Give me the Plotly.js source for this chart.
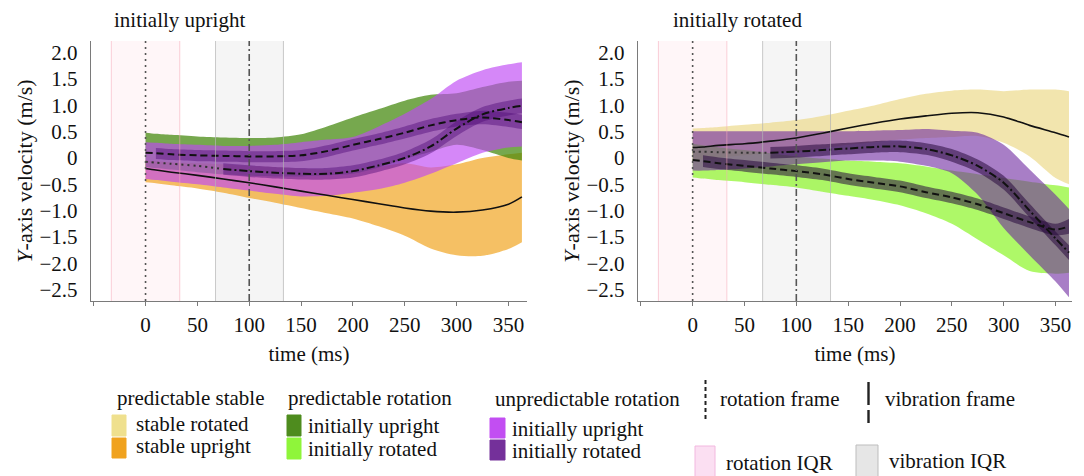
<!DOCTYPE html>
<html>
<head>
<meta charset="utf-8">
<script src="https://cdn.plot.ly/plotly-3.0.1.min.js"></script>
<style>html,body{margin:0;padding:0;background:#fff;}#chart{width:1084px;height:476px;}</style>
</head>
<body>
<div id="chart"></div>
<script>
// ---------------- data ----------------
const T = [0,10,25,50,75,100,125,150,175,200,225,250,275,300,325,350,363];

// left panel: initially upright
const upStableMed = [-0.20,-0.23,-0.27,-0.33,-0.40,-0.47,-0.55,-0.63,-0.71,-0.79,-0.87,-0.95,-1.01,-1.03,-0.99,-0.88,-0.74];
const upStableLo  = [-0.46,-0.48,-0.52,-0.58,-0.66,-0.76,-0.85,-0.95,-1.05,-1.15,-1.30,-1.48,-1.72,-1.85,-1.86,-1.73,-1.60];
const upStableHi  = [-0.05,-0.06,-0.08,-0.10,-0.12,-0.15,-0.17,-0.20,-0.22,-0.25,-0.17,-0.10,-0.18,-0.12,0.00,0.07,0.10];
const upPredHi    = [0.48,0.46,0.44,0.41,0.39,0.38,0.39,0.45,0.60,0.77,0.93,1.09,1.20,1.23,1.35,1.45,1.47];
const upPredLo    = [-0.17,-0.19,-0.22,-0.27,-0.31,-0.34,-0.35,-0.35,-0.33,-0.30,-0.18,-0.02,0.12,0.25,0.15,0.00,-0.05];
const upUnpHi     = [0.30,0.29,0.27,0.25,0.23,0.23,0.25,0.30,0.35,0.40,0.60,0.84,1.12,1.47,1.67,1.78,1.82];
const upUnpLo     = [-0.40,-0.42,-0.45,-0.50,-0.56,-0.62,-0.68,-0.73,-0.72,-0.66,-0.59,-0.47,-0.30,-0.10,0.10,0.20,0.22];
const upLineA     = [0.10,0.09,0.07,0.05,0.04,0.03,0.03,0.05,0.13,0.25,0.36,0.48,0.62,0.72,0.77,0.72,0.68];
const upLineB     = [-0.07,-0.09,-0.11,-0.15,-0.21,-0.25,-0.28,-0.30,-0.30,-0.25,-0.14,0.00,0.22,0.56,0.83,0.95,0.99];
const upBandALo   = [-0.02,-0.04,-0.06,-0.07,-0.08,-0.08,-0.06,0.02,0.14,0.25,0.37,0.50,0.60,0.64,0.59,0.55];
const upBandAHi   = [0.19,0.17,0.15,0.14,0.13,0.13,0.15,0.24,0.36,0.47,0.60,0.74,0.84,0.90,0.86,0.82];
const upBandBLo   = [-0.32,-0.36,-0.39,-0.41,-0.41,-0.37,-0.26,-0.12,0.09,0.42,0.69,0.81,0.85];
const upBandBHi   = [-0.10,-0.14,-0.17,-0.19,-0.19,-0.14,-0.03,0.12,0.35,0.70,0.97,1.09,1.13];

// right panel: initially rotated
const rotStableMed = [0.20,0.21,0.24,0.27,0.32,0.38,0.47,0.57,0.66,0.74,0.80,0.85,0.86,0.78,0.62,0.48,0.40];
const rotStableHi  = [0.56,0.57,0.59,0.63,0.67,0.72,0.80,0.90,1.00,1.12,1.22,1.28,1.30,1.27,1.30,1.30,1.27];
const rotStableLo  = [-0.05,-0.03,0.00,0.05,0.09,0.12,0.18,0.25,0.30,0.35,0.38,0.40,0.42,0.29,0.03,-0.38,-0.50];
const rotPredHi    = [0.27,0.24,0.20,0.15,0.09,0.03,-0.01,-0.05,-0.07,-0.10,-0.16,-0.24,-0.31,-0.38,-0.45,-0.52,-0.56];
const rotPredLo    = [-0.37,-0.39,-0.42,-0.46,-0.51,-0.56,-0.64,-0.72,-0.80,-0.90,-1.05,-1.25,-1.55,-1.85,-2.15,-2.20,-2.18];
const rotUnpHi     = [0.51,0.51,0.51,0.51,0.51,0.51,0.51,0.51,0.52,0.53,0.55,0.52,0.48,0.25,-0.22,-0.70,-0.97];
const rotUnpLo     = [-0.24,-0.24,-0.23,-0.20,-0.16,-0.12,-0.08,-0.05,-0.05,-0.07,-0.15,-0.29,-0.70,-1.33,-1.85,-2.35,-2.65];
const rotLineA     = [-0.04,-0.06,-0.10,-0.15,-0.20,-0.25,-0.31,-0.40,-0.47,-0.54,-0.65,-0.75,-0.88,-1.05,-1.22,-1.36,-1.30];
const rotLineB     = [0.12,0.12,0.11,0.10,0.10,0.12,0.15,0.18,0.21,0.22,0.17,0.05,-0.15,-0.47,-1.00,-1.53,-1.80];
const rotBandALo   = [-0.17,-0.21,-0.26,-0.31,-0.36,-0.42,-0.51,-0.58,-0.65,-0.76,-0.86,-0.99,-1.16,-1.33,-1.47,-1.44];
const rotBandAHi   = [0.05,0.01,-0.04,-0.09,-0.14,-0.20,-0.29,-0.36,-0.43,-0.54,-0.64,-0.77,-0.94,-1.11,-1.25,-1.16];
const rotBandBLo   = [-0.01,0.01,0.04,0.07,0.10,0.11,0.06,-0.07,-0.27,-0.60,-1.13,-1.66,-1.94];
const rotBandBHi   = [0.21,0.23,0.26,0.29,0.32,0.33,0.28,0.17,-0.03,-0.34,-0.87,-1.40,-1.66];

// reference windows (ms)
const rotationIQR = [-33, 33];
const vibrationIQR = [67.5, 133];
const rotationFrame = 0;
const vibrationFrame = 100;

// axis ticks
const yTickVals = [2, 1.5, 1, 0.5, 0, -0.5, -1, -1.5, -2, -2.5];
const yTickText = ['2.0','1.5','1.0','0.5','0','\u22120.5','\u22121.0','\u22121.5','\u22122.0','\u22122.5'];
const xTickVals = [-50, 0, 50, 100, 150, 200, 250, 300, 350];
const xTickText = ['', '0', '50', '100', '150', '200', '250', '300', '350'];

// ---------------- styling ----------------
const FONT = '"Liberation Serif", "Times New Roman", serif';
const C = {
  stableUp: 'rgba(240,160,20,0.66)',
  stableRot: 'rgba(235,215,130,0.65)',
  predUp: 'rgba(65,135,10,0.72)',
  predRot: 'rgba(140,245,40,0.70)',
  unpUp: 'rgba(190,70,245,0.65)',
  unpRot: 'rgba(110,40,160,0.60)',
  narrowUp: 'rgba(80,10,120,0.45)',
  narrowRot: 'rgba(40,10,60,0.55)'
};

function band(xa, ya, xs, lo, hi, color) {
  return [
    {x: xs, y: lo, xaxis: xa, yaxis: ya, mode: 'lines', line: {width: 0, shape: 'spline', smoothing: 0.8, color: color}, hoverinfo: 'skip', showlegend: false},
    {x: xs, y: hi, xaxis: xa, yaxis: ya, mode: 'lines', fill: 'tonexty', fillcolor: color, line: {width: 0, shape: 'spline', smoothing: 0.8, color: color}, hoverinfo: 'skip', showlegend: false}
  ];
}
function line(xa, ya, xs, ys, color, width, dash) {
  return {x: xs, y: ys, xaxis: xa, yaxis: ya, mode: 'lines', line: {color: color, width: width, dash: dash, shape: 'spline', smoothing: 0.8}, hoverinfo: 'skip', showlegend: false};
}

const TA = T.slice(1);   // narrow band A starts at 10 ms
const TB = T.slice(4);   // line B dotted before 75 ms
let traces = [];
// left
traces = traces.concat(band('x','y', T, upStableLo, upStableHi, C.stableUp));
traces = traces.concat(band('x','y', T, upPredLo, upPredHi, C.predUp));
traces = traces.concat(band('x','y', T, upUnpLo, upUnpHi, C.unpUp));
traces = traces.concat(band('x','y', TA, upBandALo, upBandAHi, C.narrowUp));
traces = traces.concat(band('x','y', TB, upBandBLo, upBandBHi, C.narrowUp));
traces.push(line('x','y', T, upStableMed, '#111', 1.6, 'solid'));
traces.push(line('x','y', T, upLineA, '#111', 2, '7px,4px'));
traces.push(line('x','y', T.slice(0,5), upLineB.slice(0,5), '#333', 2, '2px,4px'));
traces.push(line('x','y', TB, upLineB.slice(4), '#111', 2, '8px,3px,2px,3px'));
// right
traces = traces.concat(band('x2','y2', T, rotStableLo, rotStableHi, C.stableRot));
traces = traces.concat(band('x2','y2', T, rotPredLo, rotPredHi, C.predRot));
traces = traces.concat(band('x2','y2', T, rotUnpLo, rotUnpHi, C.unpRot));
traces = traces.concat(band('x2','y2', TA, rotBandALo, rotBandAHi, C.narrowRot));
traces = traces.concat(band('x2','y2', TB, rotBandBLo, rotBandBHi, C.narrowRot));
traces.push(line('x2','y2', T, rotStableMed, '#111', 1.6, 'solid'));
traces.push(line('x2','y2', T, rotLineA, '#111', 2, '7px,4px'));
traces.push(line('x2','y2', T.slice(0,5), rotLineB.slice(0,5), '#333', 2, '2px,4px'));
traces.push(line('x2','y2', TB, rotLineB.slice(4), '#111', 2, '8px,3px,2px,3px'));

// ---------------- layout ----------------
const W = 1084, H = 476;
const px = v => v / W;
const py = v => 1 - v / H;

function xAxis(domain, range, anchor) {
  return {domain: domain, range: range, anchor: anchor, showline: true, linecolor: '#7a7a7a', linewidth: 1.3,
    ticks: 'outside', ticklen: 4, tickcolor: '#7a7a7a', tickvals: xTickVals, ticktext: xTickText,
    showgrid: false, zeroline: false, tickfont: {family: FONT, size: 21, color: '#111'},
    title: {text: 'time (ms)', font: {family: FONT, size: 21, color: '#111'}, standoff: 10}};
}
function yAxis(anchor) {
  return {domain: [175/H, 435/H], range: [-2.719, 2.224], anchor: anchor, showline: true, linecolor: '#7a7a7a', linewidth: 1.3,
    ticks: 'outside', ticklen: 8, tickcolor: 'rgba(0,0,0,0)', tickvals: yTickVals, ticktext: yTickText,
    showgrid: false, zeroline: false, tickfont: {family: FONT, size: 21, color: '#111'},
    title: {text: '<i>Y</i>-axis velocity (m/s)', font: {family: FONT, size: 22, color: '#111'}, standoff: 0}};
}

const shapes = [];
[['x','y'],['x2','y2']].forEach(([xa, ya]) => {
  const yr = ya === 'y' ? 'y domain' : 'y2 domain';
  shapes.push({type: 'rect', xref: xa, yref: yr, x0: rotationIQR[0], x1: rotationIQR[1], y0: 0, y1: 1, fillcolor: '#fff6f8', line: {width: 0}, layer: 'below'});
  shapes.push({type: 'rect', xref: xa, yref: yr, x0: vibrationIQR[0], x1: vibrationIQR[1], y0: 0, y1: 1, fillcolor: '#f5f5f5', line: {width: 0}, layer: 'below'});
  rotationIQR.forEach(v => shapes.push({type: 'line', xref: xa, yref: yr, x0: v, x1: v, y0: 0, y1: 1, line: {color: 'rgba(245,170,185,0.55)', width: 1}, layer: 'above'}));
  vibrationIQR.forEach(v => shapes.push({type: 'line', xref: xa, yref: yr, x0: v, x1: v, y0: 0, y1: 1, line: {color: 'rgba(180,180,180,0.7)', width: 1}, layer: 'above'}));
  shapes.push({type: 'line', xref: xa, yref: yr, x0: rotationFrame, x1: rotationFrame, y0: 0, y1: 1, line: {color: '#555', width: 1.6, dash: '2px,4px'}, layer: 'above'});
  shapes.push({type: 'line', xref: xa, yref: yr, x0: vibrationFrame, x1: vibrationFrame, y0: 0, y1: 1, line: {color: '#555', width: 1.6, dash: '7px,3px,2px,3px'}, layer: 'above'});
});

// legend glyphs (paper coords)
function swatch(x0, x1, y0, y1, fill, border) {
  shapes.push({type: 'rect', xref: 'paper', yref: 'paper', x0: px(x0), x1: px(x1), y0: py(y1), y1: py(y0), fillcolor: fill, line: {color: border || fill, width: 1}});
}
swatch(112, 126, 415, 436, '#efe08e');
swatch(112, 126, 438, 458, '#f0a21e');
swatch(287, 301, 415, 436, '#4e8c1e');
swatch(287, 301, 438, 459, '#8ff53a');
swatch(490, 505, 418, 438, '#c24ef2');
swatch(490, 505, 440, 460, '#74309a');
swatch(695, 715, 446, 480, '#fbdff2', '#f2b8df');
swatch(856, 878, 445, 480, '#e6e6e6', '#bdbdbd');
shapes.push({type: 'line', xref: 'paper', yref: 'paper', x0: px(705.5), x1: px(705.5), y0: py(380), y1: py(422), line: {color: '#222', width: 2, dash: '4px,3px'}});
shapes.push({type: 'line', xref: 'paper', yref: 'paper', x0: px(868.5), x1: px(868.5), y0: py(382), y1: py(405), line: {color: '#222', width: 2.4}});
shapes.push({type: 'line', xref: 'paper', yref: 'paper', x0: px(868.5), x1: px(868.5), y0: py(410), y1: py(423), line: {color: '#222', width: 2.4}});

const annotations = [];
function label(text, x, y, size) {
  annotations.push({text: text, xref: 'paper', yref: 'paper', x: px(x), y: py(y), xanchor: 'left', yanchor: 'middle', showarrow: false,
    font: {family: FONT, size: size || 21, color: '#111'}});
}
label('initially upright', 112, 20);
label('initially rotated', 671, 20);
label('predictable stable', 115, 398);
label('stable rotated', 134, 424);
label('stable upright', 134, 446);
label('predictable rotation', 286, 398);
label('initially upright', 306, 426);
label('initially rotated', 306, 449);
label('unpredictable rotation', 493, 399);
label('initially upright', 510, 429);
label('initially rotated', 510, 451);
label('rotation frame', 718, 399);
label('vibration frame', 883, 399);
label('rotation IQR', 724, 463);
label('vibration IQR', 887, 461);

const layout = {
  width: W, height: H, margin: {l: 0, r: 0, t: 0, b: 0},
  paper_bgcolor: '#fff', plot_bgcolor: 'rgba(0,0,0,0)', showlegend: false,
  font: {family: FONT, size: 21, color: '#111'},
  xaxis: xAxis([91/W, 527/W], [-52.6, 367.9], 'y'),
  yaxis: yAxis('x'),
  xaxis2: xAxis([638/W, 1072/W], [-52.7, 365.9], 'y2'),
  yaxis2: yAxis('x2'),
  shapes: shapes,
  annotations: annotations
};

Plotly.newPlot('chart', traces, layout, {staticPlot: true, displayModeBar: false});
</script>
</body>
</html>
